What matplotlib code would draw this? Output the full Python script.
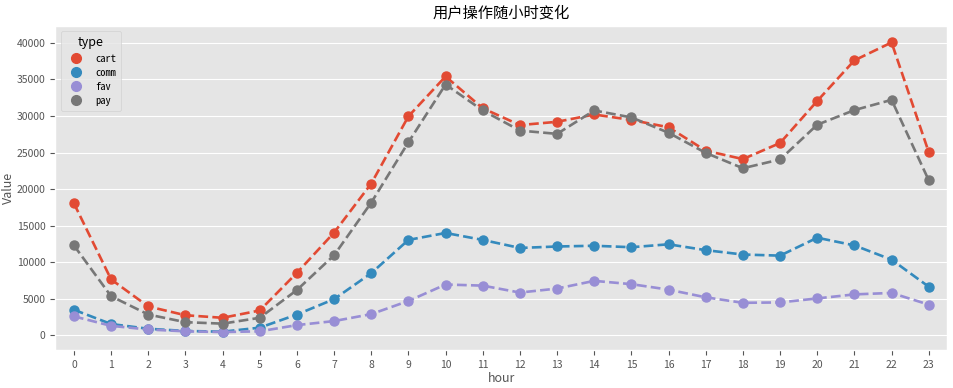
import matplotlib
matplotlib.use('Agg')
import matplotlib.pyplot as plt
from matplotlib.lines import Line2D

plt.style.use('ggplot')
plt.rcParams['font.family'] = ['Noto Sans CJK SC', 'DejaVu Sans']
plt.rcParams['axes.unicode_minus'] = False

hours = list(range(24))
types = ['cart', 'comm', 'fav', 'pay']
cart = [18050, 7650, 3950, 2750, 2400, 3400, 8550, 14050, 20750, 29950, 35400, 31050,
        28750, 29200, 30200, 29450, 28450, 25250, 24100, 26300, 32050, 37600, 40050, 25050]
comm = [3500, 1550, 900, 600, 500, 1050, 2850, 4950, 8500, 13050, 14000, 13050,
        11950, 12150, 12250, 12050, 12450, 11650, 11050, 10900, 13350, 12300, 10350, 6650]
fav = [2600, 1300, 800, 550, 450, 550, 1400, 1950, 2900, 4700, 6950, 6800,
       5850, 6400, 7450, 7000, 6250, 5200, 4450, 4500, 5050, 5600, 5800, 4200]
pay = [12300, 5350, 2850, 1800, 1600, 2400, 6200, 10950, 18150, 26400, 34300, 30750,
       28000, 27550, 30750, 29800, 27700, 24950, 22850, 24050, 28800, 30800, 32200, 21200]
series = [cart, comm, fav, pay]
colors = ['#E24A33', '#348ABD', '#988ED5', '#777777']

fig, ax = plt.subplots(figsize=(9.54, 3.88), dpi=100)
fig.subplots_adjust(left=0.058, right=0.993, top=0.933, bottom=0.098)

handles = []
for name, vals, c in zip(types, series, colors):
    ax.plot(hours, vals, color=c, linestyle='--', linewidth=1.9, marker='o',
            markersize=6.5)
    handles.append(Line2D([], [], color=c, marker='o', linestyle='', markersize=7, label=name))

ax.set_xlim(-0.5, 23.5)
ax.set_ylim(-2000, 42300)
ax.set_xticks(hours)
ax.set_xticklabels([str(h) for h in hours])
ax.set_yticks(range(0, 40001, 5000))
ax.tick_params(labelsize=7.5, colors='#555555')
ax.grid(axis='x', visible=False)
ax.set_xlabel('hour', fontsize=9, color='#555555', labelpad=2)
ax.set_ylabel('Value', fontsize=9, color='#555555', labelpad=1)
ax.set_title('用户操作随小时变化', fontsize=11, color='black')

leg = ax.legend(handles=handles, title='type', loc='upper left', fontsize=7.5,
                title_fontsize=9, handletextpad=0.8, borderpad=0.5, labelspacing=0.4)
for t in leg.get_texts():
    t.set_fontfamily(['Noto Sans Mono CJK SC', 'DejaVu Sans Mono'])

fig.savefig('out.png', dpi=100)
